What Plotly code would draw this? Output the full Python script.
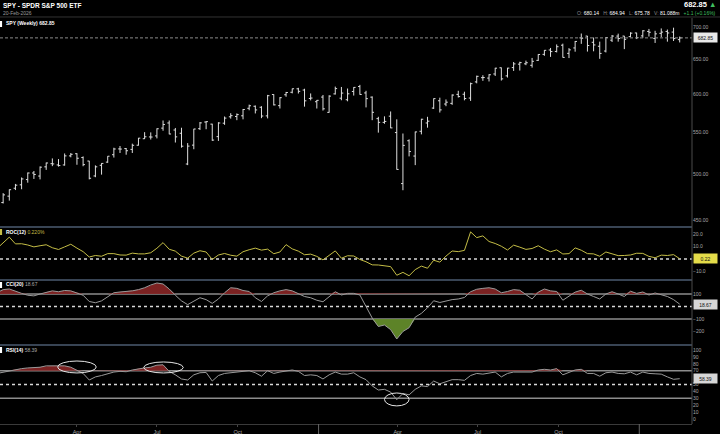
import math

import pandas as pd
import plotly.graph_objects as go
from plotly.subplots import make_subplots

# weekly bars, week-start dates
weeks = pd.date_range("2024-01-01", periods=112, freq="W-MON")

opens = [476.5, 468.4, 475.3, 484.0, 487.8, 493.7, 501.2, 497.7, 508.3, 512.0, 510.5, 510.5, 521.2,
         523.8, 519.2, 515.1, 497.8, 510.1, 513.8, 522.6, 529.6, 530.0, 529.0, 534.1, 542.1, 544.3,
         545.6, 555.4, 562.0, 553.0, 548.9, 511.6, 534.2, 554.7, 563.2, 560.5, 544.7, 561.7, 570.0,
         570.4, 571.3, 581.2, 583.9, 582.6, 571.2, 599.8, 584.7, 599.5, 602.9, 607.7, 606.0, 594.4,
         590.0, 596.3, 575.8, 600.7, 594.8, 592.7, 604.0, 610.9, 602.0, 596.2, 567.6, 562.8, 570.8,
         549.8, 489.2, 539.6, 521.0, 551.4, 562.0, 581.5, 591.3, 586.9, 587.8, 600.0, 600.2, 595.0,
         617.4, 623.4, 622.8, 628.7, 637.7, 626.0, 638.0, 643.0, 643.5, 641.3, 648.6, 657.6, 664.2,
         662.0, 671.5, 659.1, 667.3, 682.9, 685.7, 676.0, 669.9, 662.6, 679.3, 685.7, 685.7, 684.8,
         690.6, 686.0, 693.0, 682.0, 690.0, 693.0, 692.0, 680.14]
highs = [477.0, 478.6, 482.7, 488.8, 496.1, 501.7, 503.5, 508.8, 513.3, 518.2, 517.4, 524.1, 524.6,
         524.4, 520.6, 515.3, 510.0, 512.6, 520.9, 531.0, 533.1, 530.7, 536.0, 543.1, 550.3, 550.0,
         555.1, 565.2, 565.2, 555.6, 555.9, 536.7, 554.5, 563.2, 564.2, 561.0, 563.0, 570.4, 574.7,
         574.4, 580.3, 586.1, 585.0, 584.0, 599.3, 600.2, 596.2, 603.4, 608.0, 609.1, 607.8, 601.3,
         592.4, 599.2, 598.8, 610.8, 610.3, 608.1, 610.0, 613.2, 605.0, 597.3, 570.0, 570.6, 577.0,
         566.7, 548.6, 541.3, 551.0, 567.4, 570.0, 594.5, 595.5, 593.1, 600.0, 605.0, 603.7, 616.4,
         626.3, 626.9, 628.4, 637.6, 638.1, 637.6, 646.2, 646.6, 648.2, 652.2, 657.9, 664.1, 667.3,
         672.7, 673.9, 667.0, 678.0, 689.7, 685.9, 683.4, 677.0, 684.0, 687.4, 689.5, 686.0, 691.7,
         691.0, 695.0, 697.0, 694.0, 697.8, 696.0, 699.0, 684.94]
lows = [466.4, 467.4, 470.5, 482.0, 482.9, 490.2, 494.4, 493.9, 504.8, 509.1, 508.6, 509.7, 519.5,
        510.7, 509.0, 493.9, 496.4, 499.3, 513.0, 519.2, 524.7, 522.6, 524.7, 533.6, 541.7, 541.1,
        542.5, 552.1, 547.6, 537.4, 531.1, 510.3, 529.2, 553.1, 554.0, 539.4, 539.4, 559.6, 567.6,
        565.6, 566.7, 578.6, 574.4, 568.2, 567.9, 585.0, 580.9, 596.8, 601.4, 601.2, 583.4, 591.8,
        580.9, 578.2, 575.4, 599.8, 592.0, 590.6, 598.4, 599.6, 582.4, 565.6, 549.7, 561.0, 555.3,
        505.1, 481.8, 520.6, 510.3, 547.5, 556.0, 580.3, 575.6, 584.0, 585.8, 595.7, 591.9, 591.1,
        615.4, 618.9, 618.0, 625.9, 619.3, 623.6, 633.1, 633.7, 641.5, 637.9, 647.8, 655.5, 653.8,
        660.5, 652.8, 652.0, 661.6, 673.6, 661.8, 662.2, 650.9, 660.5, 676.5, 677.0, 665.5, 684.0,
        681.0, 683.0, 685.0, 675.0, 684.0, 677.0, 678.0, 675.78]
closes = [467.9, 476.7, 482.4, 487.4, 494.4, 501.2, 499.5, 507.9, 512.8, 511.7, 509.8, 521.2, 523.1,
          518.4, 510.9, 495.2, 508.3, 512.3, 520.8, 529.5, 529.4, 527.4, 534.0, 542.8, 544.5, 544.2,
          554.6, 560.0, 548.0, 544.4, 532.9, 533.0, 554.3, 562.1, 563.7, 540.4, 562.0, 568.3, 571.5,
          572.9, 579.6, 584.6, 579.0, 571.0, 598.2, 585.8, 595.5, 602.6, 607.8, 604.2, 591.2, 595.0,
          591.9, 580.5, 597.6, 608.0, 601.8, 600.8, 609.7, 599.9, 594.2, 575.9, 562.8, 564.0, 555.7,
          505.3, 533.9, 526.4, 550.6, 566.8, 564.3, 594.2, 579.1, 589.4, 599.1, 597.0, 594.3, 614.9,
          625.3, 623.6, 627.6, 637.1, 621.7, 637.2, 643.4, 645.3, 645.1, 647.2, 657.4, 663.7, 661.8,
          669.2, 653.0, 664.4, 677.3, 682.1, 671.0, 671.9, 659.0, 683.4, 685.7, 681.8, 680.6, 690.3,
          683.2, 694.0, 691.7, 689.2, 692.0, 690.6, 681.75, 682.85]

roc = [8.4, 13.2, 17.5, 12.1, 12.2, 11.2, 9.7, 10.6, 11.4, 9.0, 7.6, 9.7, 11.8, 8.7, 5.9, 1.6, 2.8,
       2.2, 4.3, 4.3, 3.2, 3.1, 4.7, 4.1, 4.1, 5.0, 8.6, 13.1, 7.8, 6.3, 2.3, 0.7, 4.7, 6.6, 5.6, -0.4,
       3.2, 4.4, 3.0, 2.3, 5.8, 7.4, 8.7, 7.1, 7.9, 4.2, 5.6, 11.5, 8.1, 6.3, 3.4, 3.9,
       2.1, -0.7, 3.2, 6.5, 0.6, 2.6, 2.4, -0.4, -2.2, -4.7, -4.8, -5.2, -6.1, -13.0, -10.7, -13.4,
       -8.5, -5.7, -7.4, -1.0, -2.5, 2.3, 6.4, 5.9, 6.9, 21.7, 17.1, 18.5, 14.0, 12.4, 10.2, 7.2, 11.1,
       9.5, 7.7, 8.4, 10.6, 7.9, 5.8, 7.3, 4.0, 4.3, 8.9, 7.0, 4.3, 4.1, 2.2, 5.6, 4.3, 2.7, 2.8, 3.2,
       4.6, 4.5, 2.1, 1.0, 3.1, 2.8, 3.5, 0.22]
cci = [110, 135, 140, 120, 105, 90, 85, 100, 115, 125, 118, 128, 125, 110, 90, 40, 30, 45, 80, 110,
       116, 120, 125, 135, 150, 172, 188, 180, 140, 90, 45, 15, 45, 70, 55, 25, 60, 110, 150, 145,
       128, 120, 70, 40, 85, 110, 125, 135, 125, 105, 80, 70,
       50, 38, 78, 118, 92, 105, 105, 92, 0, -92, -160, -148, -185, -260, -200, -170, -85, -55, -10,
       46, 32, 45, 55, 60, 72, 118, 138, 145, 150, 140, 110, 120, 135, 130, 95, 60, 115, 140, 125,
       120, 50, 85, 115, 130, 100, 80, 60, 100, 118, 100, 80, 122,
       105, 116, 92, 108, 95, 80, 55, 18.67]
rsi = [66, 68, 70, 72, 73, 74, 74, 75, 77, 77, 77, 77, 75, 71, 66, 56.5, 61, 63, 66, 68, 69, 68.5,
       71, 73, 74, 75, 78, 78.5, 69, 64, 58, 56.5, 64, 67, 67.5, 55, 63, 66, 67, 67, 69, 70, 67, 62,
       70, 66, 68, 70, 71, 69, 63, 64,
       63, 58, 64, 68, 65, 65, 67, 61, 57, 48, 42, 43, 39, 28, 37, 35, 43, 48, 47, 55, 51, 54, 57, 57,
       56, 63, 66, 65, 66, 68, 61, 66, 68, 68, 68, 68, 71, 72, 71, 73, 64, 67, 71, 72, 66, 66, 62, 67,
       68, 66, 65.5, 68,
       64, 68, 66, 65.5, 65, 61, 57.5, 58.39]

month_ticks = ["2024-04-01", "2024-07-01", "2024-10-01", "2025-04-01", "2025-07-01", "2025-10-01"]
month_labels = ["Apr", "Jul", "Oct", "Apr", "Jul", "Oct"]
year_marks = ["2025-01-01", "2026-01-01"]
x_range = ["2024-01-04 10:00", "2026-03-02"]

price_ticks = [450, 500, 550, 600, 650, 700]
roc_ticks = [-10, 10, 20]
cci_ticks = [-200, -100, 100]
rsi_ticks = [0, 10, 20, 30, 40, 50, 70, 80, 90, 100]

FONT = "Liberation Sans, Arial, sans-serif"
GREY = "#9a9a9a"
RED_FILL = "rgba(130,36,36,0.95)"
GREEN_FILL = "rgba(98,138,42,0.95)"
ROC_COLOR = "#c4bd46"
GREEN = "#3fbf5f"

fig = make_subplots(rows=4, cols=1, shared_xaxes=True, vertical_spacing=0)

# price bars
fig.add_trace(go.Ohlc(
    x=weeks, open=opens, high=highs, low=lows, close=closes,
    increasing_line_color="#dedede", decreasing_line_color="#dedede",
    line_width=1, tickwidth=0.3, hoverinfo="skip"
), row=1, col=1)
fig.add_trace(go.Scatter(
    x=x_range, y=[closes[-1], closes[-1]], mode="lines",
    line=dict(color="#8a8a8a", width=1, dash="3px,2px"), hoverinfo="skip"
), row=1, col=1)

# ROC
fig.add_trace(go.Scatter(x=weeks, y=roc, mode="lines",
                         line=dict(color=ROC_COLOR, width=1), hoverinfo="skip"), row=2, col=1)

# CCI with overbought / oversold fills
fig.add_trace(go.Scatter(x=weeks, y=[100] * len(cci), mode="lines",
                         line=dict(width=0), hoverinfo="skip"), row=3, col=1)
fig.add_trace(go.Scatter(x=weeks, y=[max(v, 100) for v in cci], mode="lines", fill="tonexty",
                         fillcolor=RED_FILL, line=dict(width=0), hoverinfo="skip"), row=3, col=1)
fig.add_trace(go.Scatter(x=weeks, y=[-100] * len(cci), mode="lines",
                         line=dict(width=0), hoverinfo="skip"), row=3, col=1)
fig.add_trace(go.Scatter(x=weeks, y=[min(v, -100) for v in cci], mode="lines", fill="tonexty",
                         fillcolor=GREEN_FILL, line=dict(width=0), hoverinfo="skip"), row=3, col=1)
fig.add_trace(go.Scatter(x=weeks, y=cci, mode="lines",
                         line=dict(color=GREY, width=1), hoverinfo="skip"), row=3, col=1)

# RSI with overbought fill
fig.add_trace(go.Scatter(x=weeks, y=[70] * len(rsi), mode="lines",
                         line=dict(width=0), hoverinfo="skip"), row=4, col=1)
fig.add_trace(go.Scatter(x=weeks, y=[max(v, 70) for v in rsi], mode="lines", fill="tonexty",
                         fillcolor=RED_FILL, line=dict(width=0), hoverinfo="skip"), row=4, col=1)
fig.add_trace(go.Scatter(x=weeks, y=rsi, mode="lines",
                         line=dict(color=GREY, width=1), hoverinfo="skip"), row=4, col=1)

yax = dict(side="right", showgrid=False, zeroline=False, showline=False, ticks="",
           tickfont=dict(size=5, color="#a8a8a8"), fixedrange=True)
fig.update_layout(
    width=720, height=434,
    margin=dict(l=0, r=28, t=18, b=10),
    paper_bgcolor="#000000", plot_bgcolor="#000000",
    showlegend=False,
    font=dict(family=FONT, color="#bbbbbb", size=5),
    yaxis=dict(yax, domain=[0.4852, 1], type="log", range=[2.6463, 2.8541],
               tickvals=price_ticks, tickformat=".2f"),
    yaxis2=dict(yax, domain=[0.3547, 0.4852], range=[-16.8, 25.6],
                tickvals=roc_ticks, tickformat=".1f"),
    yaxis3=dict(yax, domain=[0.1946, 0.3547], range=[-308, 212], tickvals=cci_ticks),
    yaxis4=dict(yax, domain=[0, 0.1946], range=[-7.2, 107.2], tickvals=rsi_ticks),
)
fig.update_xaxes(range=x_range, showgrid=False, zeroline=False, rangeslider_visible=False)
fig.update_xaxes(row=4, col=1, tickvals=month_ticks, ticktext=month_labels,
                 tickfont=dict(size=5.5, color="#a8a8a8"), ticks="outside", ticklen=2,
                 tickcolor="#444", showline=True, linecolor="#3a3a3a", linewidth=1)

shapes = []
# header rule and panel separators
shapes.append(dict(type="line", xref="paper", yref="paper", x0=0, x1=720 / 692, y0=1.0025, y1=1.0025,
                   line=dict(color="#333333", width=1)))
for yb in [0.4852, 0.3547, 0.1946]:
    shapes.append(dict(type="line", xref="paper", yref="paper", x0=0, x1=1, y0=yb, y1=yb,
                       line=dict(color="#4b5b70", width=1.5)))
shapes.append(dict(type="line", xref="paper", yref="paper", x0=1, x1=1, y0=0, y1=1,
                   line=dict(color="#4a4a4a", width=1)))
# indicator reference levels
for yr, lvl, style in [("y2", 0, "dot"), ("y3", 100, "solid"), ("y3", -100, "solid"), ("y3", 0, "dot"),
                       ("y4", 70, "solid"), ("y4", 30, "solid"), ("y4", 50, "dot")]:
    shapes.append(dict(type="line", xref="paper", yref=yr, x0=0, x1=1, y0=lvl, y1=lvl, layer="below",
                       line=dict(color="#d8d8d8" if style == "dot" else "#8c8c8c",
                                 width=1.5, dash=style)))
# year boundaries on the time axis
for ym in year_marks:
    shapes.append(dict(type="line", xref="x4", yref="paper", x0=ym, x1=ym, y0=-0.025, y1=0,
                       line=dict(color="#666666", width=1)))
# hand-drawn highlight circles on RSI
for x0, x1, y0, y1 in [("2024-03-10", "2024-04-23", 66.7, 84),
                       ("2024-06-16", "2024-07-31", 66.7, 82.6),
                       ("2025-03-17", "2025-04-14", 19, 37.7)]:
    shapes.append(dict(type="circle", xref="x4", yref="y4", x0=x0, x1=x1, y0=y0, y1=y1,
                       line=dict(color="#e6e6e6", width=1)))
# small markers before panel labels
for ytop, col in [(0.9926, "#ffffff"), (0.4803, ROC_COLOR), (0.3498, "#ffffff"), (0.1897, "#ffffff")]:
    shapes.append(dict(type="rect", xref="paper", yref="paper", x0=0, x1=0.003, y0=ytop - 0.0148,
                       y1=ytop, fillcolor=col, line=dict(width=0)))
fig.update_layout(shapes=shapes)

nb = "\u00a0"
ann = [
    dict(x=0.001, y=1.032, text="<b>SPY - SPDR S&P 500 ETF</b>", font=dict(size=6.5, color="#ffffff")),
    dict(x=0.001, y=1.0135, text="20-Feb-2026", font=dict(size=5, color="#9a9a9a")),
    dict(x=0.006, y=0.9877, text="<b>SPY (Weekly) 682.85</b>", font=dict(size=5, color="#ffffff")),
    dict(x=0.006, y=0.4729, text=f"<b>ROC(12)</b> <span style='color:{ROC_COLOR}'>0.220%</span>",
         font=dict(size=5, color="#ffffff")),
    dict(x=0.006, y=0.3448, text="<b>CCI(20)</b> <span style='color:#aaaaaa'>18.67</span>",
         font=dict(size=5, color="#ffffff")),
    dict(x=0.006, y=0.1823, text="<b>RSI(14)</b> <span style='color:#aaaaaa'>58.39</span>",
         font=dict(size=5, color="#ffffff")),
    dict(x=1.0376, y=1.034, xanchor="right",
         text=f"<b>682.85</b> <span style='color:{GREEN}'>▲</span>", font=dict(size=7.5, color="#ffffff")),
    dict(x=1.0376, y=1.0135, xanchor="right",
         text=(f"<span style='color:#888'>O:</span> 680.14{nb*3}<span style='color:#888'>H:</span> 684.94{nb*3}"
               f"<span style='color:#888'>L:</span> 675.78{nb*3}<span style='color:#888'>V:</span> 81.088m{nb*3}"
               f"<span style='color:{GREEN}'>+1.1 (+0.16%)</span>"),
         font=dict(size=5, color="#ffffff")),
]
for a in ann:
    a.setdefault("xanchor", "left")
    a.update(xref="paper", yref="paper", yanchor="middle", showarrow=False)

# current value boxes on the right axis
for yref, yval, txt, bg in [("y", math.log10(closes[-1]), "682.85", "#e8e8e8"),
                            ("y2", roc[-1], "0.22", "#e4dc4a"),
                            ("y3", cci[-1], "18.67", "#d6d6d6"),
                            ("y4", rsi[-1], "58.39", "#d6d6d6")]:
    ann.append(dict(xref="paper", yref=yref, x=1.002, y=yval, xanchor="left", yanchor="middle",
                    text=txt, showarrow=False, bgcolor=bg, borderpad=1.5, width=20,
                    font=dict(size=5, color="#111111")))
fig.update_layout(annotations=ann)

# the page's default body margin would shift the figure by 8px
fig.write_html("out.html", config={"displayModeBar": False},
               post_script="document.body.style.margin='0';document.body.style.padding='0';")
